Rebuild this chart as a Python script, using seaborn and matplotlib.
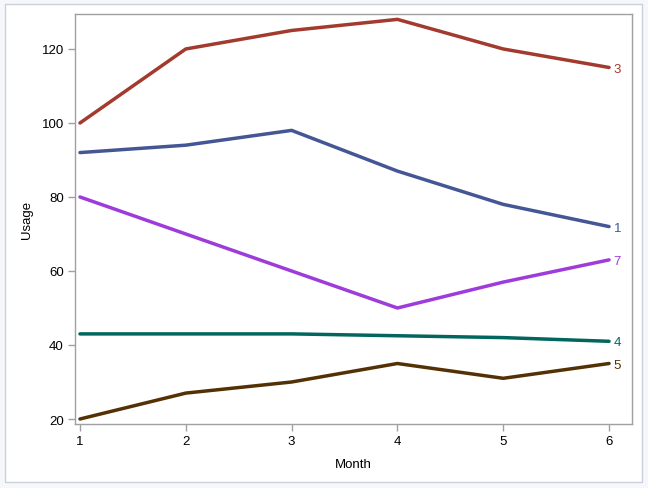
import pandas
import seaborn as sns
from matplotlib import pyplot as plt
from matplotlib.patches import Rectangle

months = [1, 2, 3, 4, 5, 6]
ids = ["3", "1", "7", "4", "5"]
usage = {
    "3": [100, 120, 125, 128, 120, 115],
    "1": [92, 94, 98, 87, 78, 72],
    "7": [80, 70, 60, 50, 57, 63],
    "4": [43, 43, 43, 42.5, 42, 41],
    "5": [20, 27, 30, 35, 31, 35],
}
colors = {"3": "#A23A2E", "1": "#445694", "7": "#9D3CDB", "4": "#01665E", "5": "#543005"}

rows = []
for i in ids:
    for m, u in zip(months, usage[i]):
        rows.append([i, m, u])
df = pandas.DataFrame(rows, columns=["ID", "Month", "Usage"])

sns.set_style("white")
plt.rcParams["font.family"] = ["Liberation Sans", "DejaVu Sans"]

fig = plt.figure(figsize=(6.48, 4.89), dpi=100)
fig.patch.set_facecolor("#F6F7FB")
fig.patches.append(Rectangle((5 / 648, 6 / 489), 637 / 648, 478 / 489, transform=fig.transFigure,
                             facecolor="white", edgecolor="#CDD0D8", linewidth=1, zorder=-10))
ax = fig.add_axes([75 / 648, 1 - 425 / 489, 557 / 648, 410 / 489])

sns.lineplot(data=df, x="Month", y="Usage", hue="ID", palette=colors, linewidth=2.5,
             legend=False, ax=ax)

# label each line at its last point
for i in ids:
    ax.text(months[-1] + 0.045, usage[i][-1] - 0.3, i, color=colors[i], fontsize=9.5,
            va="center", ha="left")

ax.set_xlim(0.953, 6.217)
ax.set_ylim(18.65, 129.45)
ax.set_xticks(months)
ax.set_yticks([20, 40, 60, 80, 100, 120])
for s in ax.spines.values():
    s.set_color("#A0A0A0")
    s.set_linewidth(1)
ax.tick_params(axis="both", direction="out", length=5, width=1, color="#A0A0A0",
               labelsize=9.5, labelcolor="black", pad=3, bottom=True, left=True)
ax.set_xlabel("Month", fontsize=9.5, labelpad=8, color="black")
ax.set_ylabel("Usage", fontsize=9.5, labelpad=6, color="black")

fig.savefig("out.png", dpi=100, facecolor=fig.get_facecolor())
